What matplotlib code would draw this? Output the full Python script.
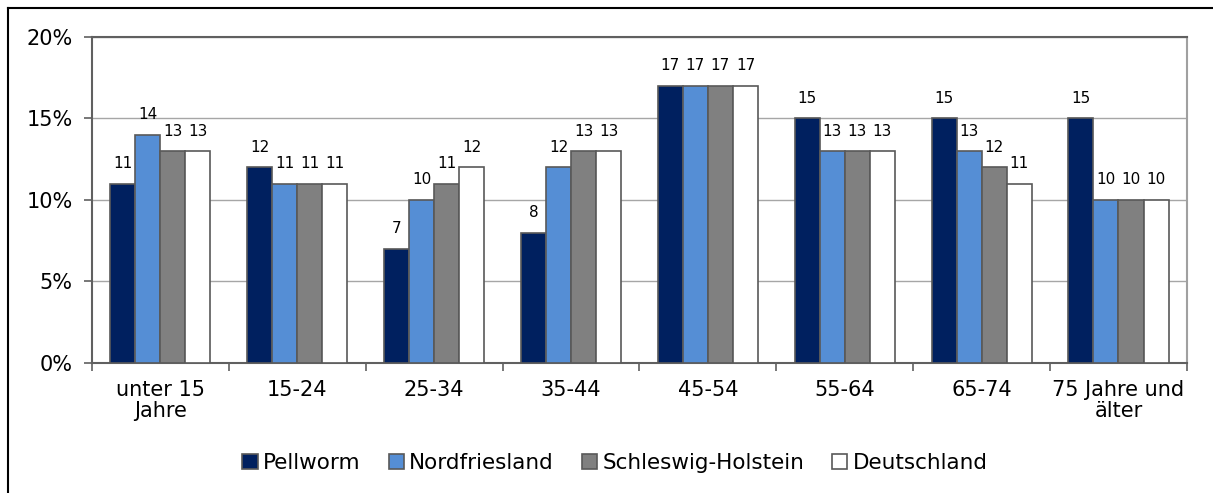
import matplotlib.pyplot as plt
import numpy as np
from matplotlib.lines import Line2D

# Altersstruktur in Prozent
kategorien = ['unter 15\nJahre', '15-24', '25-34', '35-44', '45-54', '55-64', '65-74', '75 Jahre und\nälter']
pellworm = [11, 12, 7, 8, 17, 15, 15, 15]
nordfriesland = [14, 11, 10, 12, 17, 13, 13, 10]
schleswig_holstein = [13, 11, 11, 13, 17, 13, 12, 10]
deutschland = [13, 11, 12, 13, 17, 13, 11, 10]

reihen = ['Pellworm', 'Nordfriesland', 'Schleswig-Holstein', 'Deutschland']
werte = [pellworm, nordfriesland, schleswig_holstein, deutschland]
farben = ['#00205f', '#558ed5', '#808080', '#ffffff']
rand = '#595959'

fig = plt.figure(figsize=(12.13, 4.93), dpi=100)
ax = fig.add_axes([0.0758, 0.2637, 0.9027, 0.6613])

x = np.arange(len(kategorien))
breite = 0.183
for i, (name, w, f) in enumerate(zip(reihen, werte, farben)):
    pos = x + (i - 1.5) * breite
    ax.bar(pos, w, breite, color=f, edgecolor=rand, linewidth=1.2, label=name, zorder=3)
    for px, v in zip(pos, w):
        ax.annotate(str(v), (px, v), xytext=(0, 9), textcoords='offset points',
                    ha='center', va='bottom', fontsize=11, color='black')

ax.set_xlim(-0.5, len(kategorien) - 0.5)
ax.set_ylim(0, 20)
ax.set_yticks([0, 5, 10, 15, 20])
ax.set_yticklabels(['0%', '5%', '10%', '15%', '20%'], fontsize=15)
ax.yaxis.grid(True, color='#a6a6a6', linewidth=1, zorder=0)

ax.set_xticks(x)
ax.set_xticklabels(kategorien, fontsize=15, linespacing=1.1)
ax.set_xticks(np.arange(-0.5, len(kategorien)), minor=True)
ax.tick_params(axis='x', which='major', length=0, pad=12)
ax.tick_params(axis='x', which='minor', length=6, width=1.2, color='#606060', direction='out')
ax.tick_params(axis='y', length=6, width=1.2, color='#606060', direction='out', pad=8)

for s in ['left', 'bottom', 'top']:
    ax.spines[s].set_color('#606060')
    ax.spines[s].set_linewidth(1.5)
ax.spines['right'].set_color('#a0a0a0')
ax.spines['right'].set_linewidth(1.5)

fig.legend(loc='center', bbox_to_anchor=(0.507, 0.061), ncol=4, frameon=False,
           fontsize=15.5, handlelength=0.7, handleheight=0.7, handletextpad=0.25,
           columnspacing=1.3)

# Rahmen um das Diagramm
fig.add_artist(Line2D([8 / 1213, 1], [1 - 8 / 493, 1 - 8 / 493], color='black', linewidth=1.5,
                      transform=fig.transFigure))
fig.add_artist(Line2D([8 / 1213, 8 / 1213], [0, 1 - 8 / 493], color='black', linewidth=1.5,
                      transform=fig.transFigure))

fig.savefig('out.png', dpi=100)
